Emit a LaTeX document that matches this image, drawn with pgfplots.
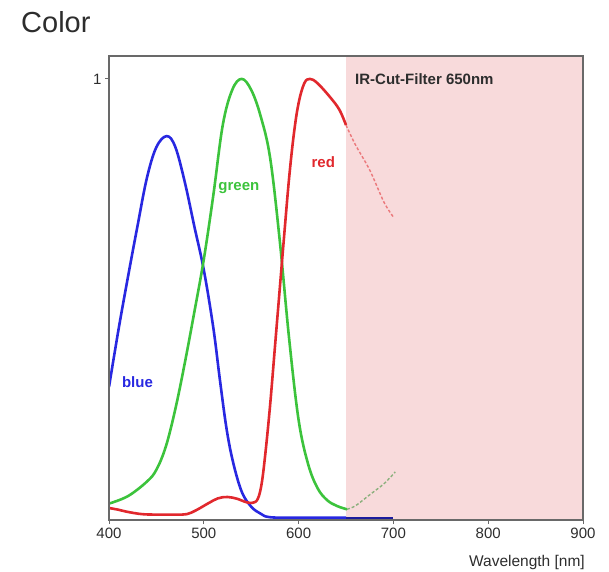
\documentclass[border=0pt]{standalone}
\usepackage{fontspec}
\setmainfont{Liberation Sans}
\usepackage{pgfplots}
\pgfplotsset{compat=1.18}
\definecolor{cBlue}{RGB}{40,40,225}
\definecolor{cGreen}{RGB}{60,195,60}
\definecolor{cRed}{RGB}{225,40,45}
\definecolor{cPink}{RGB}{248,218,219}
\definecolor{cFrame}{RGB}{105,105,105}
\definecolor{cText}{RGB}{45,45,45}

\begin{document}
\begin{tikzpicture}[x=1pt,y=1pt]
\path[use as bounding box] (0,0) rectangle (609,571);

\node[anchor=west, inner sep=0, text=cText, font=\fontsize{29}{34}\selectfont] at (21,549) {Color};

\begin{axis}[
  at={(109pt,51pt)}, anchor=south west,
  scale only axis,
  width=474pt, height=464pt,
  xmin=400, xmax=900,
  ymin=-0.0023, ymax=1.052,
  xtick={400,500,600,700,800,900},
  ytick={1},
  xtick pos=bottom, ytick pos=left,
  tick align=outside,
  major tick length=4pt,
  tick style={draw=cFrame, line width=0.8pt},
  axis line style={draw=cFrame, line width=1.6pt},
  axis on top,
  tick label style={font=\fontsize{15}{18}\selectfont, text=cText},
  /pgf/number format/assume math mode=true,
  /pgf/number format/1000 sep={},
  clip=true,
]
% IR cut region
\addplot[fill=cPink, draw=none] coordinates {(650,-0.1) (900,-0.1) (900,1.2) (650,1.2) (650,-0.1)};

% blue
\addplot[cBlue, line width=2.6pt, smooth, tension=0.6] coordinates {
  (400,0.30) (410,0.43) (420,0.55) (430,0.665) (440,0.775) (450,0.845) (461,0.87)
  (470,0.845) (480,0.765) (490,0.665) (500,0.566) (510,0.435) (517,0.316)
  (524,0.205) (531,0.128) (540,0.062) (550,0.028) (560,0.012) (570,0.004)
  (600,0.003) (650,0.003)
};
\addplot[cBlue!70!black, line width=1.8pt] coordinates {(650,0.003) (700,0.003)};

% green
\addplot[cGreen, line width=2.6pt, smooth, tension=0.6] coordinates {
  (400,0.035) (420,0.052) (440,0.085) (450,0.112) (460,0.165) (470,0.25)
  (480,0.355) (490,0.47) (500,0.59) (510,0.735) (520,0.895) (530,0.975)
  (540,1.0) (550,0.975) (560,0.915) (570,0.82) (580,0.635) (590,0.41)
  (600,0.225) (610,0.125) (620,0.07) (630,0.043) (640,0.03) (651,0.022)
};
\addplot[cGreen!45!cPink!85!black, line width=1.4pt, densely dashed, smooth] coordinates {
  (651,0.022) (660,0.03) (675,0.055) (690,0.08) (702,0.107)
};

% red
\addplot[cRed, line width=2.6pt, smooth, tension=0.6] coordinates {
  (400,0.025) (410,0.021) (420,0.016) (435,0.011) (450,0.01) (470,0.01) (482,0.011)
  (492,0.02) (505,0.036) (515,0.047) (525,0.05) (535,0.046) (545,0.038) (552,0.037)
  (557,0.046) (561,0.08) (565,0.15) (570,0.26) (575,0.39) (580,0.52) (585,0.65)
  (590,0.775) (595,0.875) (600,0.945) (606,0.99) (612,1.0) (620,0.99) (633,0.959)
  (643,0.93) (650,0.895)
};
\addplot[cRed!55!cPink, line width=1.4pt, densely dashed, smooth] coordinates {
  (650,0.895) (660,0.85) (675,0.793) (690,0.72) (700,0.686)
};

\node[anchor=west, inner sep=0, text=cBlue, font=\bfseries\fontsize{15}{18}\selectfont] at (axis cs:413.5,0.311) {blue};
\node[inner sep=0, text=cGreen, font=\bfseries\fontsize{15}{18}\selectfont] at (axis cs:537,0.752) {green};
\node[inner sep=0, text=cRed, font=\bfseries\fontsize{15}{18}\selectfont] at (axis cs:626,0.811) {red};
\node[anchor=west, inner sep=0, text=cText, font=\bfseries\fontsize{15}{18}\selectfont] at (axis cs:659.5,1.0) {IR-Cut-Filter 650nm};
\end{axis}

\node[anchor=east, inner sep=0, text=cText, font=\fontsize{15.5}{18}\selectfont] at (585,9) {Wavelength [nm]};
\end{tikzpicture}
\end{document}
